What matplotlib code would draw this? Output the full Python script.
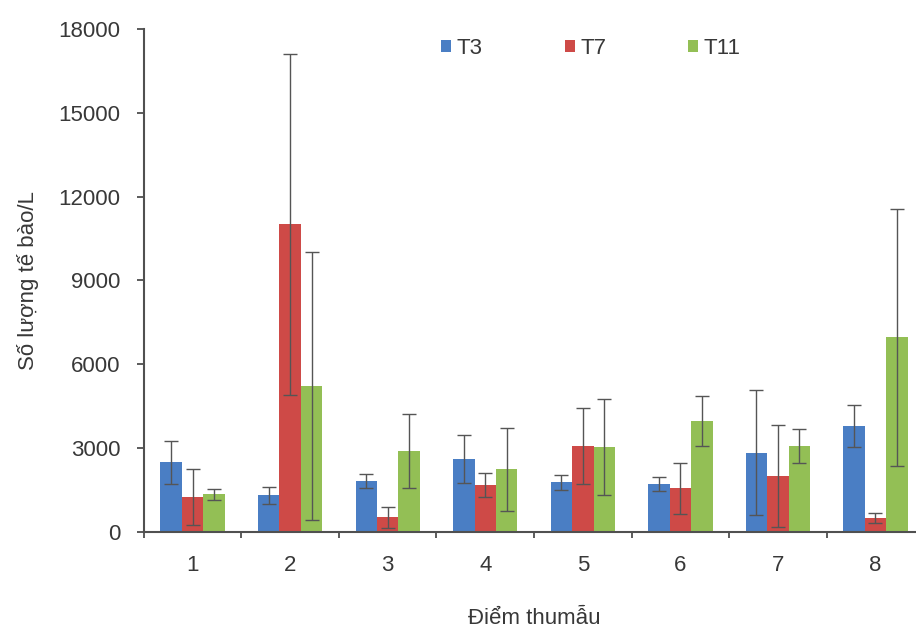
import matplotlib
matplotlib.use("Agg")
import matplotlib.pyplot as plt
import numpy as np
from matplotlib.patches import Patch

categories = ["1", "2", "3", "4", "5", "6", "7", "8"]
series = ["T3", "T7", "T11"]
t3 = [2480, 1310, 1810, 2600, 1770, 1720, 2830, 3780]
t7 = [1230, 11000, 520, 1670, 3080, 1550, 1990, 480]
t11 = [1340, 5230, 2900, 2230, 3040, 3970, 3080, 6960]
t3_err = [770, 300, 240, 860, 270, 250, 2230, 740]
t7_err = [1000, 6100, 380, 420, 1360, 900, 1830, 180]
t11_err = [200, 4800, 1330, 1500, 1720, 900, 610, 4600]
yticks = [0, 3000, 6000, 9000, 12000, 15000, 18000]

colors = ["#4A7EC4", "#CE4A47", "#93BF55"]
txt = "#383838"

plt.rcParams['font.family'] = ['Liberation Sans', 'DejaVu Sans']

fig = plt.figure(figsize=(9.16, 6.28), dpi=100)
ax = fig.add_axes([0.157, 0.1533, 0.852, 0.8007])

x = np.arange(1, len(categories) + 1)
w = 0.22
vals = [t3, t7, t11]
errs = [t3_err, t7_err, t11_err]
for i, (v, e, c) in enumerate(zip(vals, errs, colors)):
    ax.bar(x + (i - 1) * w, v, width=w, color=c, edgecolor='none', zorder=2)
    ax.errorbar(x + (i - 1) * w, v, yerr=e, fmt='none', ecolor='#555555',
                elinewidth=1.0, capsize=5, capthick=1.0, zorder=3)

ax.set_xlim(0.5, 8.5)
ax.set_ylim(0, 18000)
ax.set_yticks(yticks)
ax.set_yticklabels([str(t) for t in yticks], fontsize=16, color=txt)
ax.set_xticks(x)
ax.set_xticklabels(categories, fontsize=16, color=txt)
ax.set_xticks(np.arange(0.5, 9.0, 1.0), minor=True)
ax.tick_params(axis='x', which='major', length=0, pad=17)
ax.tick_params(axis='x', which='minor', length=4, width=1.2, color='#404040', direction='out')
ax.tick_params(axis='y', which='major', length=5, width=1.2, color='#404040', direction='out', pad=12)

for s in ['top', 'right']:
    ax.spines[s].set_visible(False)
for s in ['left', 'bottom']:
    ax.spines[s].set_color('#505050')
    ax.spines[s].set_linewidth(1.5)

ax.set_ylabel("Số lượng tế bào/L", fontsize=16, color=txt, labelpad=14)
ax.set_xlabel("Điểm thumẫu", fontsize=16, color=txt, labelpad=23)

handles = [Patch(facecolor=c, edgecolor='none') for c in colors]
fig.legend(handles, series, loc='center', bbox_to_anchor=(0.645, 0.923), ncol=3,
           frameon=False, fontsize=16, handlelength=0.45, handleheight=0.45,
           handletextpad=0.25, columnspacing=3.7, labelcolor=txt)

fig.savefig("out.png", dpi=100)
